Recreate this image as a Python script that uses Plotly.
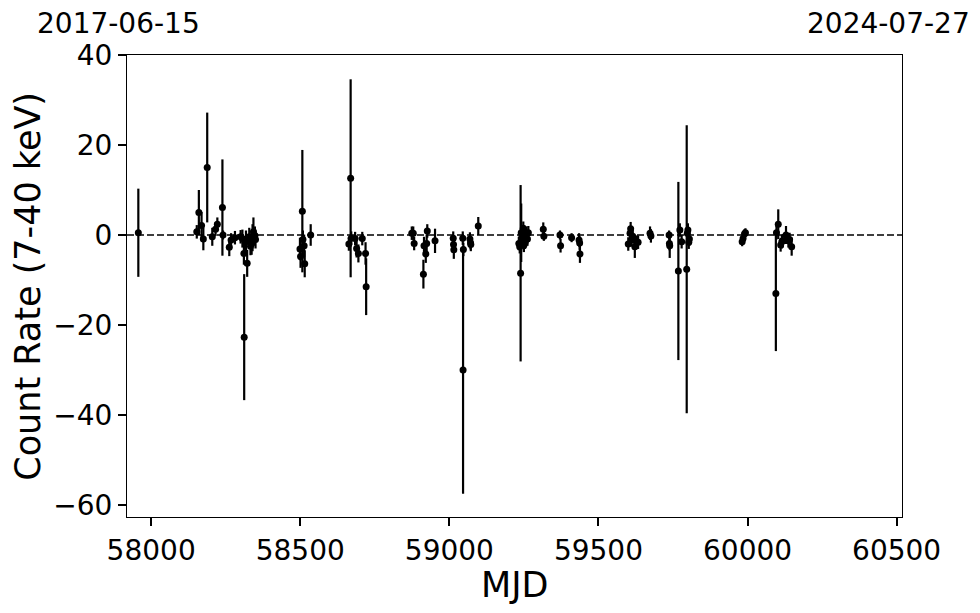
import plotly.graph_objects as go

mjd = [57957, 58153, 58160, 58169, 58175, 58188, 58205, 58216, 58222, 58239, 58241,
       58262, 58268, 58281, 58300, 58306, 58311, 58312, 58318, 58322, 58329, 58333,
       58337, 58340, 58343, 58348, 58350,
       58499, 58501, 58507, 58509, 58513, 58515, 58535,
       58663, 58669, 58671, 58684, 58689, 58695, 58708, 58719, 58721,
       58874, 58879, 58882, 58913, 58915, 58921, 58924, 58926, 58952,
       59013, 59014, 59015, 59045, 59046, 59047, 59069, 59071, 59072, 59097,
       59233, 59236, 59239, 59241, 59243, 59248, 59250, 59254, 59259, 59262, 59265,
       59315, 59317, 59371, 59373, 59410, 59435, 59437, 59438,
       59600, 59606, 59608, 59611, 59615, 59622, 59628, 59633, 59673, 59676,
       59737, 59738, 59739, 59768, 59773, 59779, 59796, 59798, 59800, 59803, 59805,
       59982, 59985, 59990, 59993,
       60095, 60097, 60103, 60111, 60115, 60118, 60129, 60137, 60141, 60148]
rate = [0.5, 0.7, 5.0, 2.1, -0.9, 15.0, -0.4, 1.3, 2.4, 6.1, 0.0,
        -2.7, -1.1, -0.6, -0.4, -0.8, -4.1, -22.7, -1.5, -6.3, -0.4, -2.5,
        -1.9, -0.6, 0.7, -0.1, -1.0,
        -3.1, -4.8, 5.3, -1.0, -2.4, -6.4, 0.0,
        -2.0, 12.6, -0.7, -0.8, -3.0, -4.1, -0.8, -4.1, -11.5,
        0.4, 0.4, -1.9, -8.7, -2.4, -4.2, -1.9, 0.9, -1.3,
        -0.7, -2.1, -3.3, -0.7, -30.0, -3.2, -0.9, -1.7, -2.1, 2.0,
        -1.9, -2.6, -8.5, 0.5, -0.5, 1.5, -2.3, -1.6, 0.4, -0.9, 0.5,
        1.3, -0.3, 0.0, -2.4, -0.6, -1.1, -1.8, -4.2,
        -2.0, 0.4, 1.4, -1.1, -0.3, -2.6, -1.6, -1.6, 0.4, -0.2,
        0.0, -1.9, -2.4, -8.0, 1.1, -1.5, -7.6, 0.4, 1.1, -1.6, -0.9,
        -1.5, -0.8, 0.3, 0.5,
        -13.0, 0.5, 2.4, -2.2, -1.5, -1.3, 0.0, -1.3, -1.0, -2.6]
err = [9.8, 1.5, 5.0, 3.0, 2.5, 12.2, 2.0, 1.5, 1.5, 10.7, 1.0,
       2.0, 1.5, 1.5, 1.5, 2.0, 2.5, 14.0, 2.5, 3.0, 2.0, 2.0,
       2.5, 3.0, 3.2, 2.0, 2.0,
       2.5, 2.5, 13.6, 2.0, 2.5, 3.0, 2.4,
       1.5, 22.0, 1.5, 1.5, 2.0, 2.0, 1.5, 2.5, 6.3,
       1.5, 1.5, 1.5, 3.2, 2.0, 2.0, 2.0, 1.5, 2.7,
       1.5, 1.5, 2.0, 1.5, 27.5, 1.5, 1.5, 1.5, 1.5, 2.0,
       1.5, 1.5, 19.6, 6.5, 1.5, 1.5, 1.5, 1.5, 1.5, 1.5, 1.5,
       1.5, 1.0, 1.0, 1.5, 1.0, 1.5, 1.5, 2.0,
       1.5, 1.5, 1.5, 1.5, 1.5, 2.5, 1.5, 1.5, 1.5, 1.5,
       1.0, 1.5, 2.7, 19.8, 1.5, 1.5, 32.0, 1.5, 1.5, 1.5, 1.5,
       1.0, 1.0, 1.0, 1.0,
       12.8, 1.5, 3.3, 1.5, 1.5, 1.5, 2.0, 1.5, 1.5, 2.0]

x_ticks = [58000, 58500, 59000, 59500, 60000, 60500]
x_ticktext = ["58000", "58500", "59000", "59500", "60000", "60500"]
y_ticks = [-60, -40, -20, 0, 20, 40]
y_ticktext = ["\u221260", "\u221240", "\u221220", "0", "20", "40"]
top_labels = ["2017-06-15", "2024-07-27"]

fig = go.Figure()
fig.add_trace(go.Scatter(
    x=mjd, y=rate, mode="markers",
    marker=dict(color="black", size=7),
    error_y=dict(type="data", array=err, visible=True, color="black",
                 thickness=2.2, width=0),
    showlegend=False,
))
fig.add_shape(type="line", xref="paper", yref="y", x0=0, x1=1, y0=0, y1=0,
              line=dict(color="black", width=1.5, dash="7px,3px"), layer="below")

axis_common = dict(showgrid=False, zeroline=False, showline=True, linecolor="black",
                   linewidth=1.2, mirror=True, ticks="outside", ticklen=8, tickwidth=2,
                   tickcolor="black", tickfont=dict(family="DejaVu Sans", size=28, color="black"))
fig.update_xaxes(range=[57919, 60518], tickvals=x_ticks, ticktext=x_ticktext, **axis_common)
fig.update_yaxes(range=[-62.67, 40], tickvals=y_ticks, ticktext=y_ticktext, **axis_common)

fig.add_annotation(text="MJD", xref="paper", yref="paper", x=0.5, y=-0.147,
                   xanchor="center", yanchor="middle", showarrow=False,
                   font=dict(family="DejaVu Sans", size=35, color="black"))
fig.add_annotation(text="Count Rate (7-40 keV)", xref="paper", yref="paper",
                   x=-0.128, y=0.5, textangle=-90, xanchor="center", yanchor="middle",
                   showarrow=False, font=dict(family="DejaVu Sans", size=35, color="black"))
fig.add_annotation(text=top_labels[0], xref="paper", yref="paper", x=-0.0116, y=1.069,
                   xanchor="center", yanchor="middle", showarrow=False,
                   font=dict(family="DejaVu Sans", size=28, color="black"))
fig.add_annotation(text=top_labels[1], xref="paper", yref="paper", x=0.983, y=1.069,
                   xanchor="center", yanchor="middle", showarrow=False,
                   font=dict(family="DejaVu Sans", size=28, color="black"))

fig.update_layout(width=972, height=605, margin=dict(l=119, r=78, t=47, b=96),
                  plot_bgcolor="white", paper_bgcolor="white")
fig.write_html("out.html")
